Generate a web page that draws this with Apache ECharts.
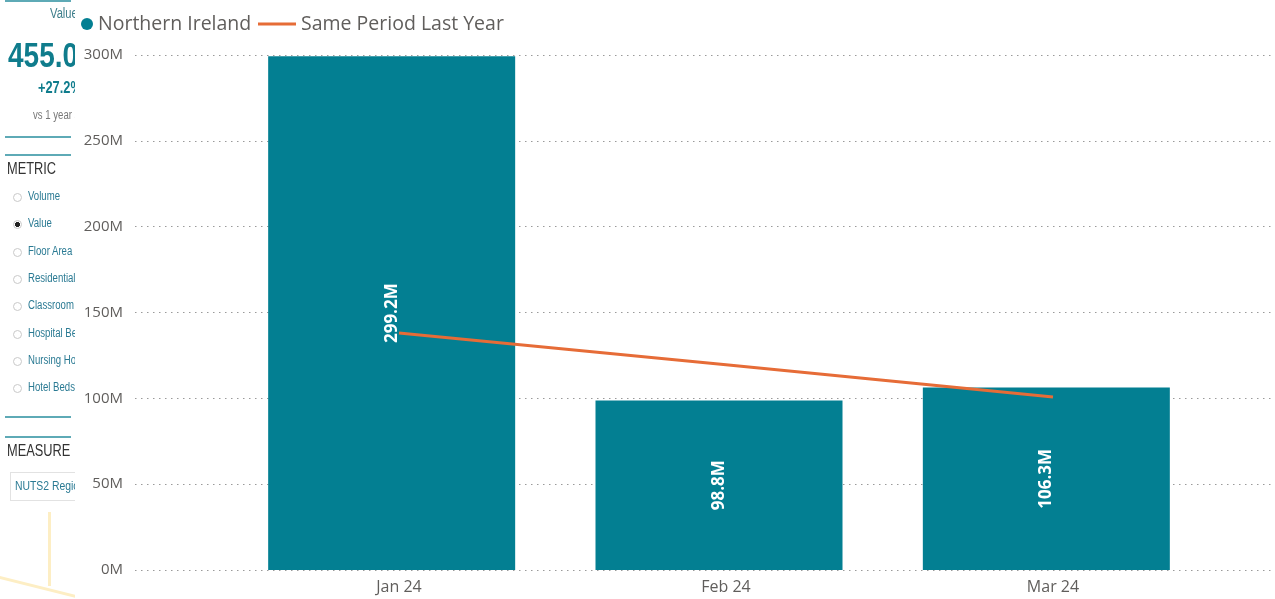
<!DOCTYPE html>
<html>
<head>
<meta charset="utf-8">
<script src="https://cdn.jsdelivr.net/npm/echarts@6/dist/echarts.min.js"></script>
<style>
  html, body { margin: 0; padding: 0; background: #fff; }
  #chart { position: absolute; left: 0; top: 0; width: 1275px; height: 599px; }
  .side { position: absolute; left: 0; top: 0; width: 75px; height: 599px; overflow: hidden;
    font-family: 'Liberation Sans Narrow', 'Liberation Sans', sans-serif; }
  .side div { position: absolute; white-space: nowrap; }
  .side .t { transform: scaleX(0.8); transform-origin: 0 0; }
  .rule { height: 2px; background: #5eaab6; left: 5px; width: 66px; }
  .opt { left: 28px; font-size: 12px; color: #2a7a93; }
  .dot { left: 13px; width: 7px; height: 7px; border: 1px solid #c8c8c8; border-radius: 50%; }
</style>
</head>
<body>
<div id="chart"></div>
<div class="side" id="side">
  <div class="rule" style="top:0"></div>
  <div class="t" style="left:50px;top:5px;font-size:14px;color:#3f7f8c">Value</div>
  <div class="t" style="left:8px;top:35px;font-size:35px;font-weight:bold;color:#0f7c8c">455.0M</div>
  <div class="t" style="left:38px;top:79px;font-size:16px;font-weight:bold;color:#0f7c8c">+27.2%</div>
  <div class="t" style="left:33px;top:108px;font-size:12px;color:#777">vs 1 year ago</div>
  <div class="rule" style="top:136px"></div>
  <div class="rule" style="top:154px"></div>
  <div class="t" style="left:7px;top:160px;font-size:16px;color:#333">METRIC</div>
  <div class="rule" style="top:416px"></div>
  <div class="rule" style="top:436px"></div>
  <div class="t" style="left:7px;top:442px;font-size:16px;color:#333">MEASURE</div>
  <div style="left:10px;top:472px;width:70px;height:27px;border:1px solid #e2e2e2"></div>
  <div class="t" style="left:15px;top:478px;font-size:13px;color:#2a7a93">NUTS2 Region</div>
  <div style="left:48px;top:512px;width:3px;height:74px;background:#fdeec4"></div>
  <div style="left:-5px;top:586px;width:90px;height:3px;background:#fdeec4;transform:rotate(14deg)"></div>
</div>
<script>
// sidebar radio options
const metricOptions = ['Volume', 'Value', 'Floor Area', 'Residential Units', 'Classroom Places', 'Hospital Beds', 'Nursing Home Beds', 'Hotel Beds']
const selectedMetric = 'Value'
const side = document.getElementById('side')
metricOptions.forEach((name, i) => {
  let y = 189 + i * 27.3
  let d = document.createElement('div')
  d.className = 'dot'
  d.style.top = (y + 4) + 'px'
  if (name === selectedMetric) d.style.background = 'radial-gradient(circle, #222 45%, #fff 55%)'
  side.appendChild(d)
  let t = document.createElement('div')
  t.className = 'opt t'
  t.style.top = y + 'px'
  t.textContent = name
  side.appendChild(t)
})

// chart data
const months = ['Jan 24', 'Feb 24', 'Mar 24']
const northernIreland = [299.2e6, 98.8e6, 106.3e6]
const samePeriodLastYear = [138.0e6, 119.5e6, 100.8e6]
const yMax = 300e6
const yStep = 50e6

const teal = '#037f92'
const orange = '#e66c37'
const font = "'Segoe UI', 'Open Sans', sans-serif"

let myChart = echarts.init(document.getElementById('chart'))
let option = {
  animation: false,
  textStyle: { fontFamily: font },
  legend: [
    {
      data: ['Northern Ireland'],
      left: 76, top: 9,
      icon: 'circle', itemWidth: 12, itemHeight: 12, itemGap: 4,
      textStyle: { fontSize: 19.5, color: '#605e5c', fontFamily: font }
    },
    {
      data: ['Same Period Last Year'],
      left: 253, top: 9,
      icon: 'rect', itemWidth: 38, itemHeight: 3,
      textStyle: { fontSize: 19.5, color: '#605e5c', fontFamily: font }
    }
  ],
  grid: [
    { left: 135, right: 0, top: 55, bottom: 29 },
    { left: 228, right: 65, top: 55, bottom: 29 },
    { left: 235.5, right: 58.5, top: 55, bottom: 29 }
  ],
  xAxis: [
    { gridIndex: 0, type: 'value', show: false },
    { gridIndex: 1, type: 'category', data: months, show: false },
    {
      gridIndex: 2, type: 'category', data: months,
      axisLine: { show: false }, axisTick: { show: false },
      axisLabel: { fontSize: 16, color: '#605e5c', margin: 9, fontFamily: font }
    }
  ],
  yAxis: [
    {
      gridIndex: 0, type: 'value', min: 0, max: yMax, interval: yStep,
      axisLine: { show: false }, axisTick: { show: false },
      axisLabel: {
        fontSize: 15, color: '#605e5c', margin: 12, fontFamily: font,
        formatter: v => (v / 1e6) + 'M'
      },
      splitLine: { lineStyle: { color: '#9a9a9a', width: 1, type: [1.5, 4.5] } }
    },
    { gridIndex: 1, type: 'value', min: 0, max: yMax, show: false, splitLine: { show: false } },
    { gridIndex: 2, type: 'value', min: 0, max: yMax, show: false, splitLine: { show: false } }
  ],
  series: [
    {
      name: 'Northern Ireland',
      type: 'bar',
      xAxisIndex: 1, yAxisIndex: 1,
      data: northernIreland,
      barWidth: 247,
      itemStyle: { color: teal },
      label: {
        show: true, position: 'inside', rotate: 90,
        color: '#fff', fontSize: 17, fontWeight: 'bold', fontFamily: font,
        formatter: p => (p.value / 1e6).toFixed(1) + 'M'
      }
    },
    {
      name: 'Same Period Last Year',
      type: 'line',
      xAxisIndex: 2, yAxisIndex: 2,
      data: samePeriodLastYear,
      showSymbol: false,
      itemStyle: { color: orange },
      lineStyle: { color: orange, width: 3 }
    }
  ]
}
myChart.setOption(option)
</script>
</body>
</html>
